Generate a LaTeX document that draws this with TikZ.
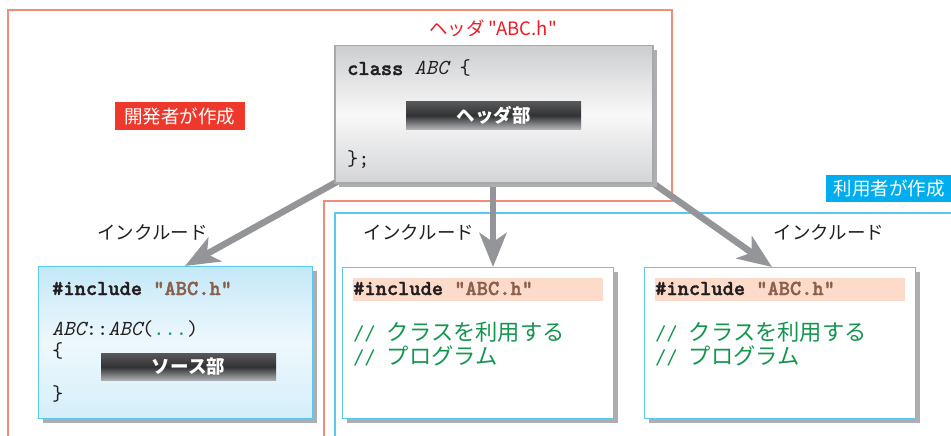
\documentclass[tikz,border=0pt]{standalone}
\usepackage{fontspec}
\newfontfamily\jp{Noto Sans CJK JP}
\newfontfamily\ttb{lmmonolt10-bold.otf}[FakeBold=1.6]
\newfontfamily\tti{lmmono10-italic.otf}
\newfontfamily\ttr{lmmono10-regular.otf}
\usetikzlibrary{arrows.meta,shadows,backgrounds}
\definecolor{frred}{RGB}{242,140,120}
\definecolor{frcyan}{RGB}{90,200,240}
\definecolor{lblred}{RGB}{238,56,44}
\definecolor{lblcyan}{RGB}{0,174,239}
\definecolor{titlered}{RGB}{237,28,36}
\definecolor{arrowgray}{RGB}{147,149,152}
\definecolor{shadowgray}{RGB}{172,174,177}
\definecolor{hdrborder}{RGB}{167,169,172}
\definecolor{strbrown}{RGB}{140,95,75}
\definecolor{cmtgreen}{RGB}{20,150,80}
\definecolor{peach}{RGB}{252,219,203}
\definecolor{textblack}{RGB}{35,31,32}
\definecolor{hdrtop}{RGB}{205,206,208}
\definecolor{hdrmid}{RGB}{248,248,248}
\definecolor{hdrbot}{RGB}{212,213,215}
\definecolor{srctop}{RGB}{196,232,248}
\definecolor{srcmid}{RGB}{238,248,253}
\definecolor{srcbot}{RGB}{212,238,250}
\definecolor{bartop}{RGB}{86,87,89}
\definecolor{barmid}{RGB}{50,50,52}
\definecolor{barbot}{RGB}{175,177,180}
\tikzset{
  frameline/.style={line width=1.3pt},
  incarrow/.style={draw=arrowgray, line width=6.5pt, shorten <=-8pt,
    -{Stealth[length=34pt,width=27pt,inset=9pt]}},
  myshadow/.style={drop shadow={shadow xshift=4pt,shadow yshift=-4pt,fill=shadowgray,opacity=1}},
  codebox/.style={draw=frcyan, line width=1.3pt, fill=white, minimum width=271pt,
    minimum height=151pt, inner sep=0, anchor=north west, myshadow},
  code/.style={anchor=base west, inner sep=0, text=textblack,
    font={\ttr\fontsize{21.4}{24}\selectfont}},
  cmt/.style={anchor=base west, inner sep=0, text=cmtgreen,
    font={\ttr\fontsize{21.4}{24}\selectfont}},
  incl/.style={inner sep=0, text=textblack, font={\jp\fontsize{18.5}{20}\selectfont}},
  lbl/.style={inner sep=0, text=white, minimum height=27pt, font={\jp\fontsize{18.5}{20}\selectfont}},
  darkbar/.style={inner sep=0, minimum width=175pt, minimum height=27pt, text=white,
    top color=bartop, bottom color=barbot, middle color=barmid,
    font={\jp\bfseries\fontsize{18.5}{20}\selectfont}},
  band/.style={fill=peach, inner sep=0, minimum width=250pt, minimum height=23pt, anchor=north west}
}
\newcommand{\jpc}[1]{{\jp\fontsize{22.3}{24}\selectfont #1}}
\begin{document}
\begin{tikzpicture}[x=1pt,y=-1pt]
\useasboundingbox (0,0) rectangle (951,436);
% header box
\node[draw=hdrborder, line width=1.5pt, top color=hdrtop, bottom color=hdrbot, middle color=hdrmid,
  minimum width=318pt, minimum height=137pt, inner sep=0, anchor=north west, myshadow] (hdr) at (334,45) {};
\node[code] (cls) at (347,75) {{\ttb class} {\tti ABC} \{};
\node[darkbar] (hbar) at (493.5,115.5) {ヘッダ部};
\node[code] (clsend) at (347,165) {\};};
\node[inner sep=0, text=titlered, font={\jp\fontsize{18.5}{20}\selectfont}] (title) at (493,28) {ヘッダ "ABC.h"};
% labels
\node[lbl, fill=lblred, minimum width=130pt] (dev) at (179.5,116) {開発者が作成};
\node[lbl, fill=lblcyan, minimum width=126pt] (usr) at (889,188) {利用者が作成};
% source box
\node[draw=frcyan, line width=1.3pt, top color=srctop, bottom color=srcbot, middle color=srcmid,
  minimum width=274pt, minimum height=152pt, inner sep=0, anchor=north west, myshadow] (src) at (38,266) {};
\node[code] (sinc) at (52,295) {{\ttb\#include} {\ttb\color{strbrown}"ABC.h"}};
\node[code] (sfun) at (52,335) {{\tti ABC}::{\tti ABC}({\color{cmtgreen}...})};
\node[code] (sopen) at (52,357) {\{};
\node[code] (sclose) at (52,400) {\}};
\node[darkbar] (sbar) at (188.5,367) {ソース部};
% user boxes
\node[codebox] (ua) at (342,267) {};
\node[band] (bandA) at (353,278) {};
\node[code] (uainc) at (353,295) {{\ttb\#include} {\ttb\color{strbrown}"ABC.h"}};
\node[cmt] (uac1) at (353,340) {// \jpc{クラスを利用する}};
\node[cmt] (uac2) at (353,364) {// \jpc{プログラム}};
\node[codebox] (ub) at (644,267) {};
\node[band] (bandB) at (655,278) {};
\node[code] (ubinc) at (655,295) {{\ttb\#include} {\ttb\color{strbrown}"ABC.h"}};
\node[cmt] (ubc1) at (655,340) {// \jpc{クラスを利用する}};
\node[cmt] (ubc2) at (655,364) {// \jpc{プログラム}};
% include labels
\node[incl] (incA) at (152.5,232) {インクルード};
\node[incl] (incB) at (419,232) {インクルード};
\node[incl] (incC) at (829,232) {インクルード};
\begin{pgfonlayer}{background}
\draw[frameline, draw=frred] (8,436) -- (8,10) -- (672,10) -- (672,201) -- (324,201) -- (324,436);
\draw[frameline, draw=frcyan] (335,436) -- (335,213) -- (951,213);
\draw[incarrow] (hdr.south west) -- (src.north west -| 185,0);
\coordinate (tipB) at (493,267);
\draw[incarrow] (hdr.south -| tipB) -- (tipB);
\draw[incarrow] (hdr.south east) -- (ub.north west -| 772,0);
\end{pgfonlayer}
\end{tikzpicture}
\end{document}
